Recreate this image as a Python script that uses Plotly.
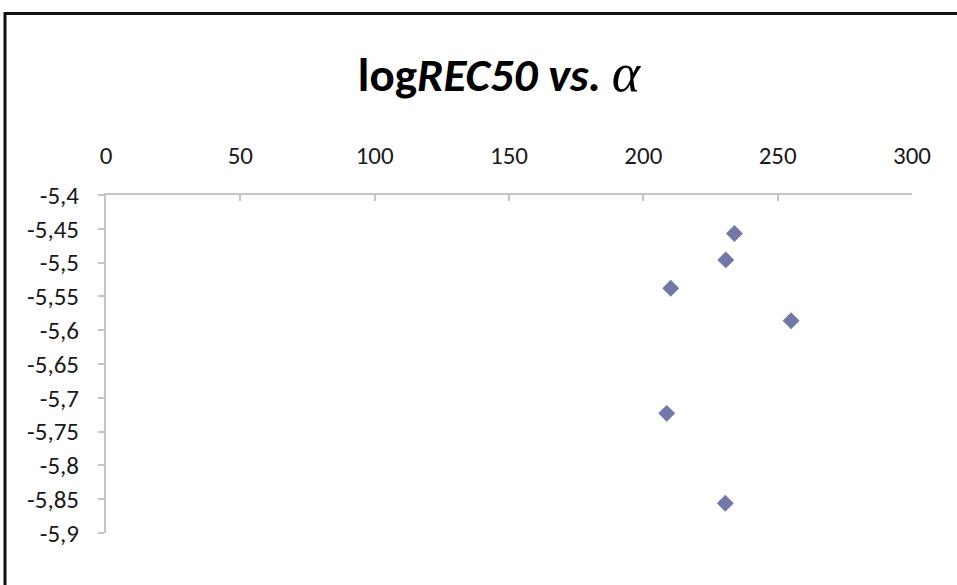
import plotly.graph_objects as go

alpha = [233.9, 230.7, 210.2, 255.0, 208.7, 230.5]
log_rec50 = [-5.457, -5.496, -5.538, -5.586, -5.723, -5.856]

x_tickvals = [0, 50, 100, 150, 200, 250, 300]
x_ticktext = ["0", "50", "100", "150", "200", "250", "300"]
y_tickvals = [-5.4, -5.45, -5.5, -5.55, -5.6, -5.65, -5.7, -5.75, -5.8, -5.85, -5.9]
y_ticktext = ["-5,4", "-5,45", "-5,5", "-5,55", "-5,6", "-5,65", "-5,7", "-5,75", "-5,8", "-5,85", "-5,9"]

FONT = "Carlito, Lato, 'Open Sans', sans-serif"

fig = go.Figure()
fig.add_trace(go.Scatter(
    x=alpha, y=log_rec50, mode="markers",
    marker=dict(symbol="diamond", size=13, color="#7377A9", line=dict(width=0)),
    showlegend=False, hoverinfo="x+y",
))

W, H = 957, 585
l, r, t, b = 106, 45, 195, 52
pw, ph = W - l - r, H - t - b

def px_to_paper_x(px):
    return (px - l) / pw

def px_to_paper_y(py):
    return (H - b - py) / ph

fig.update_layout(
    width=W, height=H,
    margin=dict(l=l, r=r, t=t, b=b, pad=0),
    paper_bgcolor="white", plot_bgcolor="white",
    font=dict(family=FONT, size=25, color="#1a1a1a"),
    title=dict(
        text=("<b>log<i>REC50 vs. </i></b>"
              "<i><span style=\"font-family:'Liberation Serif';font-size:54px\">α</span></i>"),
        font=dict(family=FONT, size=47, color="#000000"),
        x=499 / W, xref="container", xanchor="center",
        y=1 - 75 / H, yref="container", yanchor="middle",
    ),
    xaxis=dict(
        side="top", range=[0, 300], tickvals=x_tickvals, ticktext=x_ticktext,
        showgrid=False, zeroline=False, showline=True, linecolor="#C4C4C4", linewidth=2,
        ticks="inside", ticklen=6, tickcolor="#C4C4C4", tickwidth=1.5,
        ticklabelstandoff=19,
    ),
    yaxis=dict(
        range=[-5.9, -5.4], tickvals=y_tickvals, ticktext=y_ticktext,
        showgrid=False, zeroline=False, showline=True, linecolor="#C4C4C4", linewidth=2,
        ticks="outside", ticklen=6, tickcolor="#C4C4C4", tickwidth=1.5,
        ticklabelstandoff=14,
    ),
    shapes=[
        dict(type="line", xref="paper", yref="paper",
             x0=px_to_paper_x(5), x1=px_to_paper_x(957),
             y0=px_to_paper_y(13.5), y1=px_to_paper_y(13.5),
             line=dict(color="#111111", width=3)),
        dict(type="line", xref="paper", yref="paper",
             x0=px_to_paper_x(5), x1=px_to_paper_x(5),
             y0=px_to_paper_y(12), y1=px_to_paper_y(585),
             line=dict(color="#111111", width=3)),
    ],
)

fig.write_html(
    "out.html",
    config={"displayModeBar": False},
    post_script="document.body.style.margin='0';document.body.style.overflow='hidden';",
)
